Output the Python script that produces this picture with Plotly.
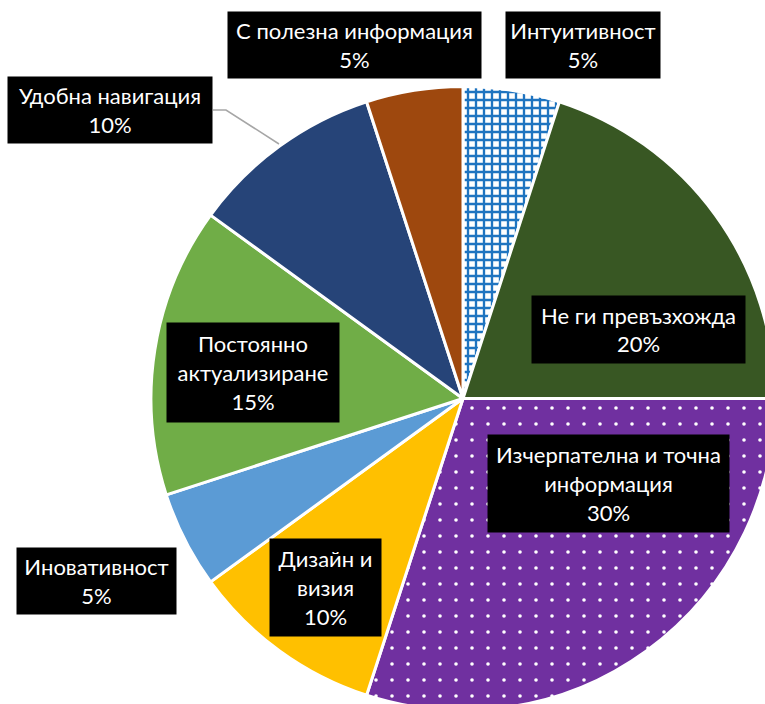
import plotly.graph_objects as go

# Survey answers, clockwise from 12 o'clock
labels = [
    "Интуитивност",
    "Не ги превъзхожда",
    "Изчерпателна и точна информация",
    "Дизайн и визия",
    "Иновативност",
    "Постоянно актуализиране",
    "Удобна навигация",
    "С полезна информация",
]
values = [5, 20, 30, 10, 5, 15, 10, 5]

# Label text as it wraps inside each callout box
label_lines = [
    "Интуитивност",
    "Не ги превъзхожда",
    "Изчерпателна и точна<br>информация",
    "Дизайн и<br>визия",
    "Иновативност",
    "Постоянно<br>актуализиране",
    "Удобна навигация",
    "С полезна информация",
]

colors = ["#FFFFFF", "#385723", "#7030A0", "#FFC000",
          "#5B9BD5", "#70AD47", "#264478", "#9E480E"]
pattern_shapes = ["+", "", ".", "", "", "", "", ""]
pattern_fg = ["#1F74C0", "#000000", "#FFFFFF", "#000000",
              "#000000", "#000000", "#000000", "#000000"]
pattern_size = [8, 8, 16, 8, 8, 8, 8, 8]
pattern_solidity = [0.5, 0.2, 0.04, 0.2, 0.2, 0.2, 0.2, 0.2]

# Canvas is slightly larger than the view so the pie runs off the edges
W, H = 790, 725
cx, cy, r = 463, 398.5, 312


def px(x):
    return x / W


def py(y):
    return 1 - y / H


# Callout boxes: left, top, right, bottom (pixels)
boxes = [
    (506, 12, 660, 78),
    (532, 296, 745, 363),
    (488, 435, 729, 532),
    (270, 539, 381, 636),
    (17, 548, 176, 614),
    (167, 323, 339, 422),
    (8, 77, 212, 143),
    (228, 12, 481, 78),
]

fig = go.Figure(
    go.Pie(
        labels=labels,
        values=values,
        sort=False,
        direction="clockwise",
        rotation=0,
        textinfo="none",
        hoverinfo="label+percent",
        showlegend=False,
        domain=dict(x=[px(cx - r), px(cx + r)], y=[py(cy + r), py(cy - r)]),
        marker=dict(
            colors=colors,
            line=dict(color="#FFFFFF", width=3),
            pattern=dict(
                shape=pattern_shapes,
                fgcolor=pattern_fg,
                bgcolor=colors,
                size=pattern_size,
                solidity=pattern_solidity,
                fillmode="replace",
            ),
        ),
    )
)

total = sum(values)
annotations = []
for text, v, (x0, y0, x1, y1) in zip(label_lines, values, boxes):
    annotations.append(
        dict(
            x=px((x0 + x1) / 2),
            y=py((y0 + y1) / 2),
            xref="paper",
            yref="paper",
            xanchor="center",
            yanchor="middle",
            text=f"{text}<br>{v / total * 100:.0f}%",
            showarrow=False,
            width=x1 - x0,
            height=y1 - y0,
            bgcolor="#000000",
            borderpad=0,
            align="center",
            valign="middle",
            font=dict(family="Lato", size=22, color="#FFFFFF"),
        )
    )

# Leader line from the "Удобна навигация" callout to its slice
leader = [(213, 110), (226, 110), (279, 144)]
path = "M " + " L ".join(f"{px(x)},{py(y)}" for x, y in leader)

fig.update_layout(
    width=W,
    height=H,
    margin=dict(l=0, r=0, t=0, b=0),
    paper_bgcolor="#FFFFFF",
    plot_bgcolor="#FFFFFF",
    annotations=annotations,
    shapes=[dict(type="path", path=path, xref="paper", yref="paper",
                 line=dict(color="#A6A6A6", width=1.5))],
)

fig.write_html(
    "out.html",
    post_script="document.documentElement.style.overflow='hidden';"
                "document.body.style.overflow='hidden';",
)
